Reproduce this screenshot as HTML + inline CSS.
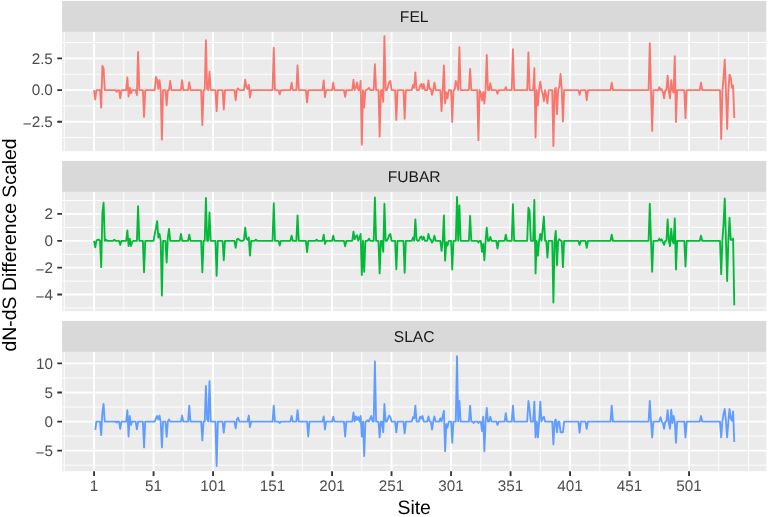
<!DOCTYPE html><html><head><meta charset="utf-8"><style>
html,body{margin:0;padding:0;background:#fff;width:768px;height:517px;overflow:hidden}
svg{display:block;will-change:transform}text{font-family:"Liberation Sans",sans-serif;text-rendering:geometricPrecision}
</style></head><body>
<svg width="768" height="517" viewBox="0 0 768 517">
<rect x="0" y="0" width="768" height="517" fill="#fff"/>
<rect x="62.05" y="0.9" width="704.25" height="31.00" fill="#D9D9D9"/>
<text x="414.17" y="21.70" font-size="15.6" fill="#1A1A1A" text-anchor="middle">FEL</text>
<rect x="62.05" y="31.9" width="704.25" height="119.25" fill="#EBEBEB"/>
<path d="M62.05 137.53H766.3M62.05 105.88H766.3M62.05 74.22H766.3M62.05 42.57H766.3M64.31 31.9V151.15M123.81 31.9V151.15M183.31 31.9V151.15M242.81 31.9V151.15M302.31 31.9V151.15M361.81 31.9V151.15M421.31 31.9V151.15M480.81 31.9V151.15M540.31 31.9V151.15M599.81 31.9V151.15M659.31 31.9V151.15M718.81 31.9V151.15M748.56 31.9V151.15" stroke="#fff" stroke-width="0.93" fill="none"/>
<path d="M62.05 121.70H766.3M62.05 90.05H766.3M62.05 58.40H766.3M94.06 31.9V151.15M153.56 31.9V151.15M213.06 31.9V151.15M272.56 31.9V151.15M332.06 31.9V151.15M391.56 31.9V151.15M451.06 31.9V151.15M510.56 31.9V151.15M570.06 31.9V151.15M629.56 31.9V151.15M689.06 31.9V151.15" stroke="#fff" stroke-width="1.85" fill="none"/>
<polyline points="94.06,90.05 95.25,99.51 96.44,90.05 97.63,90.05 98.82,90.05 100.01,90.05 101.20,107.64 102.39,65.84 103.58,68.16 104.77,90.05 105.96,90.05 107.15,90.05 108.34,90.05 109.53,90.05 110.72,90.05 111.91,90.05 113.10,90.05 114.29,90.05 115.48,90.05 116.67,91.85 117.86,90.05 119.05,90.05 120.24,98.35 121.43,90.05 122.62,90.05 123.81,90.05 125.00,90.05 126.19,90.05 127.38,77.45 128.57,96.49 129.76,87.90 130.95,93.40 132.14,90.05 133.33,90.05 134.52,90.05 135.71,90.05 136.90,95.31 138.09,51.90 139.28,90.05 140.47,90.05 141.66,90.05 142.85,90.05 144.04,116.93 145.23,90.05 146.42,90.05 147.61,90.05 148.80,90.05 149.99,90.05 151.18,90.05 152.37,90.05 153.56,90.05 154.75,90.05 155.94,76.98 157.13,79.77 158.32,89.06 159.51,80.23 160.70,90.05 161.89,139.69 163.08,90.05 164.27,90.05 165.46,90.05 166.65,105.31 167.84,90.05 169.03,90.05 170.22,80.93 171.41,90.05 172.60,90.05 173.79,90.05 174.98,90.05 176.17,90.05 177.36,90.05 178.55,90.05 179.74,90.05 180.93,90.05 182.12,80.23 183.31,90.05 184.50,90.05 185.69,90.05 186.88,90.05 188.07,90.05 189.26,82.09 190.45,90.05 191.64,90.05 192.83,90.05 194.02,90.05 195.21,90.05 196.40,90.05 197.59,90.05 198.78,90.05 199.97,90.05 201.16,90.05 202.35,125.05 203.54,90.05 204.73,90.05 205.92,40.29 207.11,89.06 208.30,90.05 209.49,71.64 210.68,90.05 211.87,90.05 213.06,90.05 214.25,90.05 215.44,90.05 216.63,111.12 217.82,90.05 219.01,90.05 220.20,90.05 221.39,90.05 222.58,90.05 223.77,109.50 224.96,90.05 226.15,90.05 227.34,90.05 228.53,90.05 229.72,90.05 230.91,90.05 232.10,90.05 233.29,90.05 234.48,90.05 235.67,100.21 236.86,90.05 238.05,88.36 239.24,90.05 240.43,90.05 241.62,90.05 242.81,90.05 244.00,90.05 245.19,79.77 246.38,86.74 247.57,89.06 248.76,84.88 249.95,97.65 251.14,90.05 252.33,90.05 253.52,90.05 254.71,90.05 255.90,90.05 257.09,90.05 258.28,90.05 259.47,90.05 260.66,90.05 261.85,90.05 263.04,90.05 264.23,90.05 265.42,90.05 266.61,90.05 267.80,90.05 268.99,90.05 270.18,90.05 271.37,90.05 272.56,90.05 273.75,47.72 274.94,90.05 276.13,90.05 277.32,90.05 278.51,90.05 279.70,94.40 280.89,90.05 282.08,90.05 283.27,90.05 284.46,90.05 285.65,90.05 286.84,90.05 288.03,90.05 289.22,90.05 290.41,90.05 291.60,82.56 292.79,90.05 293.98,90.05 295.17,90.05 296.36,90.05 297.55,65.37 298.74,90.05 299.93,90.05 301.12,90.05 302.31,90.05 303.50,90.05 304.69,90.05 305.88,90.05 307.07,102.30 308.26,90.05 309.45,90.05 310.64,90.05 311.83,90.05 313.02,90.05 314.21,90.05 315.40,90.05 316.59,90.05 317.78,90.05 318.97,90.05 320.16,90.05 321.35,90.05 322.54,90.05 323.73,80.47 324.92,97.19 326.11,90.05 327.30,90.05 328.49,90.05 329.68,90.05 330.87,90.05 332.06,90.05 333.25,82.56 334.44,90.05 335.63,90.05 336.82,90.05 338.01,90.05 339.20,90.05 340.39,90.05 341.58,90.05 342.77,90.05 343.96,90.05 345.15,96.72 346.34,90.05 347.53,90.05 348.72,90.05 349.91,90.05 351.10,90.05 352.29,90.05 353.48,79.77 354.67,90.05 355.86,87.90 357.05,82.56 358.24,90.05 359.43,90.05 360.62,80.93 361.81,144.79 363.00,90.05 364.19,107.64 365.38,90.05 366.57,90.05 367.76,89.06 368.95,87.90 370.14,90.05 371.33,90.05 372.52,90.05 373.71,90.05 374.90,64.21 376.09,90.05 377.28,90.05 378.47,90.05 379.66,136.67 380.85,90.05 382.04,90.05 383.23,101.83 384.42,36.11 385.61,90.05 386.80,90.05 387.99,86.74 389.18,82.09 390.37,80.93 391.56,90.05 392.75,90.05 393.94,90.05 395.13,90.05 396.32,119.95 397.51,90.05 398.70,90.05 399.89,90.05 401.08,90.05 402.27,90.05 403.46,90.05 404.65,118.78 405.84,90.05 407.03,90.05 408.22,90.05 409.41,90.05 410.60,90.05 411.79,90.05 412.98,84.88 414.17,87.90 415.36,72.34 416.55,90.05 417.74,90.05 418.93,90.05 420.12,85.58 421.31,83.95 422.50,89.06 423.69,83.95 424.88,90.05 426.07,90.05 427.26,90.05 428.45,80.47 429.64,89.06 430.83,89.06 432.02,94.86 433.21,90.05 434.40,82.56 435.59,90.05 436.78,90.05 437.97,90.05 439.16,90.05 440.35,90.05 441.54,111.12 442.73,90.05 443.92,65.37 445.11,103.46 446.30,92.54 447.49,98.35 448.68,90.05 449.87,90.05 451.06,90.05 452.25,122.04 453.44,90.05 454.63,90.05 455.82,80.93 457.01,84.41 458.20,90.05 459.39,47.26 460.58,90.05 461.77,90.05 462.96,90.05 464.15,90.05 465.34,90.05 466.53,90.05 467.72,90.05 468.91,90.05 470.10,68.85 471.29,90.05 472.48,90.05 473.67,90.05 474.86,90.05 476.05,90.05 477.24,90.05 478.43,140.15 479.62,90.05 480.81,93.70 482.00,100.67 483.19,91.85 484.38,103.46 485.57,90.05 486.76,54.92 487.95,90.05 489.14,90.05 490.33,83.25 491.52,90.05 492.71,90.05 493.90,90.05 495.09,90.05 496.28,90.05 497.47,93.70 498.66,90.05 499.85,90.05 501.04,90.05 502.23,90.05 503.42,90.05 504.61,90.05 505.80,87.20 506.99,90.05 508.18,90.05 509.37,90.05 510.56,90.05 511.75,90.05 512.94,49.11 514.13,90.05 515.32,90.05 516.51,90.05 517.70,90.05 518.89,90.05 520.08,90.05 521.27,90.05 522.46,90.05 523.65,90.05 524.84,90.05 526.03,90.05 527.22,90.05 528.41,52.37 529.60,90.05 530.79,90.05 531.98,90.05 533.17,90.05 534.36,68.16 535.55,137.36 536.74,90.05 537.93,105.31 539.12,89.06 540.31,81.63 541.50,90.05 542.69,93.70 543.88,101.13 545.07,90.05 546.26,96.03 547.45,103.46 548.64,90.05 549.83,90.05 551.02,90.05 552.21,90.05 553.40,145.96 554.59,90.05 555.78,87.90 556.97,114.14 558.16,90.05 559.35,86.74 560.54,73.96 561.73,89.06 562.92,121.57 564.11,90.05 565.30,90.05 566.49,90.05 567.68,90.05 568.87,90.05 570.06,90.05 571.25,90.05 572.44,90.05 573.63,90.05 574.82,90.05 576.01,90.05 577.20,90.05 578.39,90.05 579.58,94.86 580.77,90.05 581.96,90.05 583.15,90.05 584.34,90.05 585.53,90.05 586.72,100.21 587.91,90.05 589.10,90.05 590.29,90.05 591.48,90.05 592.67,90.05 593.86,90.05 595.05,90.05 596.24,90.05 597.43,90.05 598.62,90.05 599.81,90.05 601.00,90.05 602.19,90.05 603.38,90.05 604.57,90.05 605.76,90.05 606.95,90.05 608.14,90.05 609.33,90.05 610.52,90.05 611.71,82.56 612.90,90.05 614.09,90.05 615.28,90.05 616.47,90.05 617.66,90.05 618.85,90.05 620.04,90.05 621.23,90.05 622.42,90.05 623.61,90.05 624.80,90.05 625.99,90.05 627.18,90.05 628.37,90.05 629.56,90.05 630.75,90.05 631.94,90.05 633.13,90.05 634.32,90.05 635.51,90.05 636.70,90.05 637.89,90.05 639.08,90.05 640.27,90.05 641.46,90.05 642.65,90.05 643.84,90.05 645.03,90.05 646.22,90.05 647.41,90.05 648.60,90.05 649.79,43.08 650.98,90.05 652.17,130.86 653.36,90.05 654.55,90.05 655.74,90.05 656.93,90.05 658.12,90.05 659.31,87.20 660.50,90.05 661.69,89.06 662.88,91.85 664.07,98.35 665.26,90.05 666.45,90.05 667.64,75.59 668.83,91.38 670.02,98.35 671.21,80.23 672.40,90.05 673.59,92.54 674.78,56.08 675.97,122.04 677.16,90.05 678.35,90.05 679.54,90.05 680.73,90.05 681.92,90.05 683.11,90.05 684.30,90.05 685.49,118.09 686.68,90.05 687.87,90.05 689.06,90.05 690.25,90.05 691.44,90.05 692.63,90.05 693.82,90.05 695.01,90.05 696.20,90.05 697.39,90.05 698.58,90.05 699.77,90.05 700.96,82.56 702.15,90.05 703.34,90.05 704.53,90.05 705.72,90.05 706.91,90.05 708.10,90.05 709.29,90.05 710.48,90.05 711.67,90.05 712.86,90.05 714.05,90.05 715.24,90.05 716.43,90.05 717.62,90.05 718.81,90.05 720.00,90.05 721.19,138.96 722.38,91.37 723.57,77.44 724.76,59.56 725.95,91.37 727.14,128.98 728.33,91.37 729.52,74.65 730.71,77.44 731.90,87.88 733.09,85.56 734.28,118.07" fill="none" stroke="#F8766D" stroke-width="1.85" stroke-linejoin="round" stroke-linecap="butt"/>
<text x="52.89" y="127.10" font-size="15.28" fill="#4D4D4D" text-anchor="end"><tspan dy="1.6">−</tspan><tspan dy="-1.6">2.5</tspan></text>
<text x="52.89" y="95.45" font-size="15.28" fill="#4D4D4D" text-anchor="end">0.0</text>
<text x="52.89" y="63.80" font-size="15.28" fill="#4D4D4D" text-anchor="end">2.5</text>
<path d="M57.29 121.70H62.05M57.29 90.05H62.05M57.29 58.40H62.05" stroke="#333" stroke-width="1.85" fill="none"/>
<rect x="62.05" y="160.9" width="704.25" height="31.00" fill="#D9D9D9"/>
<text x="414.17" y="181.70" font-size="15.6" fill="#1A1A1A" text-anchor="middle">FUBAR</text>
<rect x="62.05" y="191.9" width="704.25" height="119.25" fill="#EBEBEB"/>
<path d="M62.05 307.98H766.3M62.05 281.11H766.3M62.05 254.24H766.3M62.05 227.36H766.3M62.05 200.49H766.3M64.31 191.9V311.15M123.81 191.9V311.15M183.31 191.9V311.15M242.81 191.9V311.15M302.31 191.9V311.15M361.81 191.9V311.15M421.31 191.9V311.15M480.81 191.9V311.15M540.31 191.9V311.15M599.81 191.9V311.15M659.31 191.9V311.15M718.81 191.9V311.15M748.56 191.9V311.15" stroke="#fff" stroke-width="0.93" fill="none"/>
<path d="M62.05 294.54H766.3M62.05 267.67H766.3M62.05 240.80H766.3M62.05 213.93H766.3M94.06 191.9V311.15M153.56 191.9V311.15M213.06 191.9V311.15M272.56 191.9V311.15M332.06 191.9V311.15M391.56 191.9V311.15M451.06 191.9V311.15M510.56 191.9V311.15M570.06 191.9V311.15M629.56 191.9V311.15M689.06 191.9V311.15" stroke="#fff" stroke-width="1.85" fill="none"/>
<polyline points="94.06,240.80 95.25,247.43 96.44,240.80 97.63,239.77 98.82,239.77 100.01,240.80 101.20,267.17 102.39,213.06 103.58,202.61 104.77,240.80 105.96,239.77 107.15,240.80 108.34,240.80 109.53,240.80 110.72,240.80 111.91,240.80 113.10,240.80 114.29,239.77 115.48,240.80 116.67,240.80 117.86,240.80 119.05,240.80 120.24,244.88 121.43,240.80 122.62,240.80 123.81,240.80 125.00,240.80 126.19,240.80 127.38,230.48 128.57,246.04 129.76,238.61 130.95,246.04 132.14,242.09 133.33,240.80 134.52,240.80 135.71,240.80 136.90,240.80 138.09,206.10 139.28,240.80 140.47,240.80 141.66,240.80 142.85,240.80 144.04,272.28 145.23,240.80 146.42,240.80 147.61,240.80 148.80,240.80 149.99,240.80 151.18,240.80 152.37,240.80 153.56,240.80 154.75,233.96 155.94,228.16 157.13,221.19 158.32,237.45 159.51,233.96 160.70,240.80 161.89,295.51 163.08,240.80 164.27,240.80 165.46,240.80 166.65,262.53 167.84,237.45 169.03,228.85 170.22,240.80 171.41,240.80 172.60,240.80 173.79,240.80 174.98,240.80 176.17,240.80 177.36,240.80 178.55,240.80 179.74,240.80 180.93,233.96 182.12,240.80 183.31,240.80 184.50,240.80 185.69,240.80 186.88,240.80 188.07,240.80 189.26,234.66 190.45,240.80 191.64,240.80 192.83,240.80 194.02,240.80 195.21,240.80 196.40,240.80 197.59,240.80 198.78,240.80 199.97,240.80 201.16,240.80 202.35,272.28 203.54,240.80 204.73,240.80 205.92,197.97 207.11,240.80 208.30,240.80 209.49,212.37 210.68,240.80 211.87,240.80 213.06,240.80 214.25,240.80 215.44,240.80 216.63,275.77 217.82,240.80 219.01,240.80 220.20,240.80 221.39,240.80 222.58,240.80 223.77,260.21 224.96,240.80 226.15,240.80 227.34,240.80 228.53,240.80 229.72,240.80 230.91,240.80 232.10,240.80 233.29,240.80 234.48,240.80 235.67,247.90 236.86,239.77 238.05,238.61 239.24,239.77 240.43,240.80 241.62,240.80 242.81,240.80 244.00,239.77 245.19,227.69 246.38,238.61 247.57,239.77 248.76,237.45 249.95,255.56 251.14,240.80 252.33,240.80 253.52,240.80 254.71,240.80 255.90,239.77 257.09,240.80 258.28,240.80 259.47,240.80 260.66,240.80 261.85,240.80 263.04,240.80 264.23,240.80 265.42,240.80 266.61,240.80 267.80,240.80 268.99,240.80 270.18,240.80 271.37,240.80 272.56,240.80 273.75,203.08 274.94,240.80 276.13,240.80 277.32,240.80 278.51,240.80 279.70,245.58 280.89,240.80 282.08,240.80 283.27,240.80 284.46,240.80 285.65,240.80 286.84,240.80 288.03,240.80 289.22,240.80 290.41,240.80 291.60,235.59 292.79,240.80 293.98,240.80 295.17,240.80 296.36,240.80 297.55,215.38 298.74,240.80 299.93,240.80 301.12,240.80 302.31,240.80 303.50,240.80 304.69,240.80 305.88,240.80 307.07,252.08 308.26,240.80 309.45,240.80 310.64,240.80 311.83,240.80 313.02,240.80 314.21,240.80 315.40,240.80 316.59,239.77 317.78,240.80 318.97,240.80 320.16,240.80 321.35,240.80 322.54,240.80 323.73,234.66 324.92,243.95 326.11,240.80 327.30,240.80 328.49,240.80 329.68,240.80 330.87,240.80 332.06,240.80 333.25,235.59 334.44,240.80 335.63,240.80 336.82,240.80 338.01,240.80 339.20,240.80 340.39,240.80 341.58,240.80 342.77,240.80 343.96,240.80 345.15,246.27 346.34,240.80 347.53,240.80 348.72,240.80 349.91,240.80 351.10,240.80 352.29,240.80 353.48,231.64 354.67,239.30 355.86,236.29 357.05,235.12 358.24,240.80 359.43,237.45 360.62,233.96 361.81,275.07 363.00,240.80 364.19,271.82 365.38,240.80 366.57,240.80 367.76,240.80 368.95,238.61 370.14,240.80 371.33,240.80 372.52,240.80 373.71,240.80 374.90,197.50 376.09,240.80 377.28,240.80 378.47,240.80 379.66,273.44 380.85,240.80 382.04,240.80 383.23,251.85 384.42,203.77 385.61,240.80 386.80,240.80 387.99,238.61 389.18,235.12 390.37,233.96 391.56,240.80 392.75,240.80 393.94,240.80 395.13,240.80 396.32,269.26 397.51,240.80 398.70,240.80 399.89,240.80 401.08,240.80 402.27,240.80 403.46,240.80 404.65,272.75 405.84,240.80 407.03,240.80 408.22,240.80 409.41,240.80 410.60,240.80 411.79,240.80 412.98,237.45 414.17,240.80 415.36,219.33 416.55,239.77 417.74,240.80 418.93,240.80 420.12,237.45 421.31,236.29 422.50,239.77 423.69,236.75 424.88,240.80 426.07,240.80 427.26,240.80 428.45,233.96 429.64,238.61 430.83,239.77 432.02,242.56 433.21,240.80 434.40,235.59 435.59,240.80 436.78,240.80 437.97,240.80 439.16,240.80 440.35,240.80 441.54,250.92 442.73,240.80 443.92,215.38 445.11,260.67 446.30,242.09 447.49,245.58 448.68,240.80 449.87,240.80 451.06,240.80 452.25,269.50 453.44,240.80 454.63,240.80 455.82,240.80 457.01,196.81 458.20,240.80 459.39,205.40 460.58,240.80 461.77,240.80 462.96,240.80 464.15,240.80 465.34,240.80 466.53,240.80 467.72,240.80 468.91,240.80 470.10,215.85 471.29,240.80 472.48,240.80 473.67,240.80 474.86,240.80 476.05,240.80 477.24,240.80 478.43,242.56 479.62,240.80 480.81,240.80 482.00,251.85 483.19,243.95 484.38,260.21 485.57,240.80 486.76,227.69 487.95,240.80 489.14,240.80 490.33,236.98 491.52,240.80 492.71,240.80 493.90,240.80 495.09,240.80 496.28,240.80 497.47,248.59 498.66,240.80 499.85,240.80 501.04,240.80 502.23,240.80 503.42,240.80 504.61,240.80 505.80,234.66 506.99,240.80 508.18,240.80 509.37,240.80 510.56,240.80 511.75,240.80 512.94,204.24 514.13,240.80 515.32,240.80 516.51,240.80 517.70,240.80 518.89,240.80 520.08,240.80 521.27,240.80 522.46,240.80 523.65,240.80 524.84,240.80 526.03,240.80 527.22,240.80 528.41,207.72 529.60,210.74 530.79,240.80 531.98,240.80 533.17,240.80 534.36,199.82 535.55,273.44 536.74,240.80 537.93,255.56 539.12,240.80 540.31,233.96 541.50,240.80 542.69,229.32 543.88,216.55 545.07,240.80 546.26,240.80 547.45,257.65 548.64,240.80 549.83,240.80 551.02,240.80 552.21,240.80 553.40,302.47 554.59,240.80 555.78,230.94 556.97,265.31 558.16,240.80 559.35,239.30 560.54,240.80 561.73,240.80 562.92,267.17 564.11,240.80 565.30,240.80 566.49,240.80 567.68,240.80 568.87,240.80 570.06,240.80 571.25,240.80 572.44,240.80 573.63,240.80 574.82,240.80 576.01,240.80 577.20,240.80 578.39,240.80 579.58,244.88 580.77,240.80 581.96,240.80 583.15,240.80 584.34,240.80 585.53,240.80 586.72,247.90 587.91,240.80 589.10,240.80 590.29,240.80 591.48,240.80 592.67,240.80 593.86,240.80 595.05,240.80 596.24,240.80 597.43,240.80 598.62,240.80 599.81,240.80 601.00,240.80 602.19,240.80 603.38,240.80 604.57,240.80 605.76,240.80 606.95,240.80 608.14,240.80 609.33,240.80 610.52,240.80 611.71,234.66 612.90,240.80 614.09,240.80 615.28,240.80 616.47,240.80 617.66,240.80 618.85,240.80 620.04,240.80 621.23,240.80 622.42,240.80 623.61,240.80 624.80,240.80 625.99,240.80 627.18,240.80 628.37,240.80 629.56,240.80 630.75,240.80 631.94,240.80 633.13,240.80 634.32,240.80 635.51,240.80 636.70,240.80 637.89,240.80 639.08,240.80 640.27,240.80 641.46,240.80 642.65,240.80 643.84,240.80 645.03,240.80 646.22,240.80 647.41,240.80 648.60,240.80 649.79,203.77 650.98,240.80 652.17,271.82 653.36,240.80 654.55,240.80 655.74,240.80 656.93,240.80 658.12,240.80 659.31,238.61 660.50,240.80 661.69,239.30 662.88,242.09 664.07,244.88 665.26,240.80 666.45,240.80 667.64,219.33 668.83,240.80 670.02,246.27 671.21,228.62 672.40,240.80 673.59,243.25 674.78,218.40 675.97,269.50 677.16,240.80 678.35,240.80 679.54,240.80 680.73,240.80 681.92,240.80 683.11,240.80 684.30,240.80 685.49,266.48 686.68,240.80 687.87,240.80 689.06,240.80 690.25,240.80 691.44,240.80 692.63,240.80 693.82,240.80 695.01,240.80 696.20,240.80 697.39,240.80 698.58,240.80 699.77,240.80 700.96,235.59 702.15,240.80 703.34,240.80 704.53,240.80 705.72,240.80 706.91,240.80 708.10,240.80 709.29,240.80 710.48,240.80 711.67,240.80 712.86,240.80 714.05,240.80 715.24,240.80 716.43,240.80 717.62,240.80 718.81,240.80 720.00,240.80 721.19,274.12 722.38,240.80 723.57,223.51 724.76,198.43 725.95,240.80 727.14,281.09 728.33,240.80 729.52,217.70 730.71,239.76 731.90,239.76 733.09,238.60 734.28,305.23" fill="none" stroke="#00BA38" stroke-width="1.85" stroke-linejoin="round" stroke-linecap="butt"/>
<text x="52.89" y="299.94" font-size="15.28" fill="#4D4D4D" text-anchor="end"><tspan dy="1.6">−</tspan><tspan dy="-1.6">4</tspan></text>
<text x="52.89" y="273.07" font-size="15.28" fill="#4D4D4D" text-anchor="end"><tspan dy="1.6">−</tspan><tspan dy="-1.6">2</tspan></text>
<text x="52.89" y="246.20" font-size="15.28" fill="#4D4D4D" text-anchor="end">0</text>
<text x="52.89" y="219.33" font-size="15.28" fill="#4D4D4D" text-anchor="end">2</text>
<path d="M57.29 294.54H62.05M57.29 267.67H62.05M57.29 240.80H62.05M57.29 213.93H62.05" stroke="#333" stroke-width="1.85" fill="none"/>
<rect x="62.05" y="320.9" width="704.25" height="31.00" fill="#D9D9D9"/>
<text x="414.17" y="341.70" font-size="15.6" fill="#1A1A1A" text-anchor="middle">SLAC</text>
<rect x="62.05" y="351.9" width="704.25" height="119.25" fill="#EBEBEB"/>
<path d="M62.05 465.17H766.3M62.05 436.10H766.3M62.05 407.02H766.3M62.05 377.95H766.3M64.31 351.9V471.15M123.81 351.9V471.15M183.31 351.9V471.15M242.81 351.9V471.15M302.31 351.9V471.15M361.81 351.9V471.15M421.31 351.9V471.15M480.81 351.9V471.15M540.31 351.9V471.15M599.81 351.9V471.15M659.31 351.9V471.15M718.81 351.9V471.15M748.56 351.9V471.15" stroke="#fff" stroke-width="0.93" fill="none"/>
<path d="M62.05 450.63H766.3M62.05 421.56H766.3M62.05 392.49H766.3M62.05 363.41H766.3M94.06 351.9V471.15M153.56 351.9V471.15M213.06 351.9V471.15M272.56 351.9V471.15M332.06 351.9V471.15M391.56 351.9V471.15M451.06 351.9V471.15M510.56 351.9V471.15M570.06 351.9V471.15M629.56 351.9V471.15M689.06 351.9V471.15" stroke="#fff" stroke-width="1.85" fill="none"/>
<polyline points="95.25,429.96 96.44,421.56 97.63,421.56 98.82,421.56 100.01,421.56 101.20,435.07 102.39,412.54 103.58,403.95 104.77,421.56 105.96,421.56 107.15,421.56 108.34,421.56 109.53,421.56 110.72,421.56 111.91,421.56 113.10,421.56 114.29,421.56 115.48,421.56 116.67,422.53 117.86,421.56 119.05,421.56 120.24,428.80 121.43,421.56 122.62,421.56 123.81,421.56 125.00,421.56 126.19,421.56 127.38,410.22 128.57,436.46 129.76,416.03 130.95,424.85 132.14,421.56 133.33,421.56 134.52,421.56 135.71,421.56 136.90,429.26 138.09,421.56 139.28,421.56 140.47,421.56 141.66,421.56 142.85,421.56 144.04,447.38 145.23,421.56 146.42,421.56 147.61,421.56 148.80,421.56 149.99,421.56 151.18,421.56 152.37,421.56 153.56,421.56 154.75,421.56 155.94,418.35 157.13,416.03 158.32,419.51 159.51,415.56 160.70,421.56 161.89,447.38 163.08,421.56 164.27,421.56 165.46,421.56 166.65,436.93 167.84,421.56 169.03,419.51 170.22,421.56 171.41,421.56 172.60,421.56 173.79,421.56 174.98,421.56 176.17,421.56 177.36,421.56 178.55,421.56 179.74,421.56 180.93,421.56 182.12,415.56 183.31,421.56 184.50,421.56 185.69,421.56 186.88,421.56 188.07,421.56 189.26,405.58 190.45,421.56 191.64,421.56 192.83,421.56 194.02,421.56 195.21,421.56 196.40,421.56 197.59,421.56 198.78,421.56 199.97,421.56 201.16,421.56 202.35,440.41 203.54,421.56 204.73,421.56 205.92,385.84 207.11,419.51 208.30,421.56 209.49,381.19 210.68,421.56 211.87,421.56 213.06,421.56 214.25,421.56 215.44,421.56 216.63,465.96 217.82,421.56 219.01,421.56 220.20,421.56 221.39,421.56 222.58,421.56 223.77,432.75 224.96,421.56 226.15,421.56 227.34,421.56 228.53,421.56 229.72,421.56 230.91,421.56 232.10,421.56 233.29,421.56 234.48,421.56 235.67,428.33 236.86,419.51 238.05,417.65 239.24,421.56 240.43,421.56 241.62,421.56 242.81,421.56 244.00,421.56 245.19,421.56 246.38,421.56 247.57,421.56 248.76,415.56 249.95,427.17 251.14,421.56 252.33,421.56 253.52,421.56 254.71,421.56 255.90,421.56 257.09,421.56 258.28,421.56 259.47,421.56 260.66,421.56 261.85,421.56 263.04,421.56 264.23,421.56 265.42,421.56 266.61,421.56 267.80,421.56 268.99,421.56 270.18,421.56 271.37,421.56 272.56,421.56 273.75,405.58 274.94,421.56 276.13,421.56 277.32,421.56 278.51,421.56 279.70,422.99 280.89,421.56 282.08,421.56 283.27,421.56 284.46,421.56 285.65,421.56 286.84,421.56 288.03,421.56 289.22,421.56 290.41,421.56 291.60,416.03 292.79,421.56 293.98,421.56 295.17,421.56 296.36,421.56 297.55,410.22 298.74,421.56 299.93,421.56 301.12,421.56 302.31,421.56 303.50,421.56 304.69,421.56 305.88,421.56 307.07,421.56 308.26,436.46 309.45,421.56 310.64,421.56 311.83,421.56 313.02,421.56 314.21,421.56 315.40,421.56 316.59,421.56 317.78,421.56 318.97,421.56 320.16,421.56 321.35,421.56 322.54,421.56 323.73,416.49 324.92,429.50 326.11,421.56 327.30,421.56 328.49,421.56 329.68,421.56 330.87,421.56 332.06,421.56 333.25,416.72 334.44,421.56 335.63,421.56 336.82,421.56 338.01,421.56 339.20,421.56 340.39,421.56 341.58,421.56 342.77,421.56 343.96,421.56 345.15,436.46 346.34,421.56 347.53,421.56 348.72,421.56 349.91,421.56 351.10,421.56 352.29,421.56 353.48,412.54 354.67,421.56 355.86,416.49 357.05,419.97 358.24,417.19 359.43,421.56 360.62,416.03 361.81,436.46 363.00,421.56 364.19,455.97 365.38,421.56 366.57,421.56 367.76,420.21 368.95,421.56 370.14,418.35 371.33,416.03 372.52,421.56 373.71,421.56 374.90,361.45 376.09,421.56 377.28,421.56 378.47,421.56 379.66,437.39 380.85,421.56 382.04,421.56 383.23,432.28 384.42,403.95 385.61,421.56 386.80,421.56 387.99,418.35 389.18,415.56 390.37,417.19 391.56,421.56 392.75,421.56 393.94,421.56 395.13,421.56 396.32,432.28 397.51,421.56 398.70,421.56 399.89,421.56 401.08,421.56 402.27,421.56 403.46,421.56 404.65,433.44 405.84,421.56 407.03,421.56 408.22,421.56 409.41,421.56 410.60,421.56 411.79,421.56 412.98,417.19 414.17,418.35 415.36,405.58 416.55,421.56 417.74,421.56 418.93,421.56 420.12,416.72 421.31,418.35 422.50,416.03 423.69,421.56 424.88,421.56 426.07,421.56 427.26,421.56 428.45,416.49 429.64,421.56 430.83,421.56 432.02,429.50 433.21,421.56 434.40,416.49 435.59,421.56 436.78,421.56 437.97,421.56 439.16,421.56 440.35,418.35 441.54,421.56 442.73,416.03 443.92,410.92 445.11,451.33 446.30,424.15 447.49,427.64 448.68,421.56 449.87,421.56 451.06,421.56 452.25,442.73 453.44,421.56 454.63,421.56 455.82,421.56 457.01,356.11 458.20,421.56 459.39,400.93 460.58,421.56 461.77,421.56 462.96,421.56 464.15,421.56 465.34,421.56 466.53,421.56 467.72,421.56 468.91,421.56 470.10,405.58 471.29,421.56 472.48,421.56 473.67,422.99 474.86,421.56 476.05,421.56 477.24,421.56 478.43,422.99 479.62,421.56 480.81,421.56 482.00,431.12 483.19,416.72 484.38,451.33 485.57,421.56 486.76,407.90 487.95,421.56 489.14,421.56 490.33,416.72 491.52,421.56 492.71,421.56 493.90,421.56 495.09,421.56 496.28,421.56 497.47,424.85 498.66,421.56 499.85,421.56 501.04,421.56 502.23,421.56 503.42,421.56 504.61,421.56 505.80,413.24 506.99,421.56 508.18,421.56 509.37,421.56 510.56,421.56 511.75,421.56 512.94,405.58 514.13,421.56 515.32,421.56 516.51,421.56 517.70,421.56 518.89,421.56 520.08,421.56 521.27,421.56 522.46,421.56 523.65,421.56 524.84,421.56 526.03,421.56 527.22,421.56 528.41,400.93 529.60,409.06 530.79,421.56 531.98,421.56 533.17,421.56 534.36,401.63 535.55,437.39 536.74,421.56 537.93,437.39 539.12,421.56 540.31,401.63 541.50,421.56 542.69,418.35 543.88,416.72 545.07,421.56 546.26,421.56 547.45,421.56 548.64,421.56 549.83,421.56 551.02,421.56 552.21,421.56 553.40,444.36 554.59,421.56 555.78,419.51 556.97,432.28 558.16,421.56 559.35,421.56 560.54,432.28 561.73,432.28 562.92,432.28 564.11,421.56 565.30,421.56 566.49,421.56 567.68,421.56 568.87,421.56 570.06,421.56 571.25,421.56 572.44,421.56 573.63,421.56 574.82,421.56 576.01,421.56 577.20,421.56 578.39,421.56 579.58,432.75 580.77,421.56 581.96,421.56 583.15,421.56 584.34,421.56 585.53,421.56 586.72,428.80 587.91,421.56 589.10,421.56 590.29,421.56 591.48,421.56 592.67,421.56 593.86,421.56 595.05,421.56 596.24,421.56 597.43,421.56 598.62,421.56 599.81,421.56 601.00,421.56 602.19,421.56 603.38,421.56 604.57,421.56 605.76,421.56 606.95,421.56 608.14,421.56 609.33,421.56 610.52,421.56 611.71,405.58 612.90,421.56 614.09,421.56 615.28,421.56 616.47,421.56 617.66,421.56 618.85,421.56 620.04,421.56 621.23,421.56 622.42,421.56 623.61,421.56 624.80,421.56 625.99,421.56 627.18,421.56 628.37,421.56 629.56,421.56 630.75,421.56 631.94,421.56 633.13,421.56 634.32,421.56 635.51,421.56 636.70,421.56 637.89,421.56 639.08,421.56 640.27,421.56 641.46,421.56 642.65,421.56 643.84,421.56 645.03,421.56 646.22,421.56 647.41,421.56 648.60,421.56 649.79,400.93 650.98,421.56 652.17,437.39 653.36,421.56 654.55,421.56 655.74,421.56 656.93,421.56 658.12,421.56 659.31,421.56 660.50,417.19 661.69,421.56 662.88,422.99 664.07,428.80 665.26,421.56 666.45,421.56 667.64,410.22 668.83,422.99 670.02,428.80 671.21,409.76 672.40,422.99 673.59,416.03 674.78,421.56 675.97,442.73 677.16,421.56 678.35,421.56 679.54,421.56 680.73,421.56 681.92,421.56 683.11,421.56 684.30,421.56 685.49,437.39 686.68,421.56 687.87,421.56 689.06,421.56 690.25,421.56 691.44,421.56 692.63,421.56 693.82,421.56 695.01,421.56 696.20,421.56 697.39,421.56 698.58,421.56 699.77,421.56 700.96,416.03 702.15,421.56 703.34,421.56 704.53,421.56 705.72,421.56 706.91,421.56 708.10,421.56 709.29,421.56 710.48,421.56 711.67,421.56 712.86,421.56 714.05,421.56 715.24,421.56 716.43,421.56 717.62,421.56 718.81,421.56 720.00,421.56 721.19,437.37 722.38,421.56 723.57,413.69 724.76,409.05 725.95,421.56 727.14,437.37 728.33,421.56 729.52,409.05 730.71,418.33 731.90,420.65 733.09,411.37 734.28,442.01" fill="none" stroke="#619CFF" stroke-width="1.85" stroke-linejoin="round" stroke-linecap="butt"/>
<text x="52.89" y="456.03" font-size="15.28" fill="#4D4D4D" text-anchor="end"><tspan dy="1.6">−</tspan><tspan dy="-1.6">5</tspan></text>
<text x="52.89" y="426.96" font-size="15.28" fill="#4D4D4D" text-anchor="end">0</text>
<text x="52.89" y="397.88" font-size="15.28" fill="#4D4D4D" text-anchor="end">5</text>
<text x="52.89" y="368.81" font-size="15.28" fill="#4D4D4D" text-anchor="end">10</text>
<path d="M57.29 450.63H62.05M57.29 421.56H62.05M57.29 392.49H62.05M57.29 363.41H62.05" stroke="#333" stroke-width="1.85" fill="none"/>
<text x="94.06" y="490.65" font-size="15.28" fill="#4D4D4D" text-anchor="middle">1</text>
<text x="153.56" y="490.65" font-size="15.28" fill="#4D4D4D" text-anchor="middle">51</text>
<text x="213.06" y="490.65" font-size="15.28" fill="#4D4D4D" text-anchor="middle">101</text>
<text x="272.56" y="490.65" font-size="15.28" fill="#4D4D4D" text-anchor="middle">151</text>
<text x="332.06" y="490.65" font-size="15.28" fill="#4D4D4D" text-anchor="middle">201</text>
<text x="391.56" y="490.65" font-size="15.28" fill="#4D4D4D" text-anchor="middle">251</text>
<text x="451.06" y="490.65" font-size="15.28" fill="#4D4D4D" text-anchor="middle">301</text>
<text x="510.56" y="490.65" font-size="15.28" fill="#4D4D4D" text-anchor="middle">351</text>
<text x="570.06" y="490.65" font-size="15.28" fill="#4D4D4D" text-anchor="middle">401</text>
<text x="629.56" y="490.65" font-size="15.28" fill="#4D4D4D" text-anchor="middle">451</text>
<text x="689.06" y="490.65" font-size="15.28" fill="#4D4D4D" text-anchor="middle">501</text>
<path d="M94.06 471.15V475.91M153.56 471.15V475.91M213.06 471.15V475.91M272.56 471.15V475.91M332.06 471.15V475.91M391.56 471.15V475.91M451.06 471.15V475.91M510.56 471.15V475.91M570.06 471.15V475.91M629.56 471.15V475.91M689.06 471.15V475.91" stroke="#333" stroke-width="1.85" fill="none"/>
<text x="414.17" y="513.5" font-size="19.4" fill="#000" text-anchor="middle">Site</text>
<text transform="translate(15.6 244.9) rotate(-90)" x="0" y="0" font-size="19.4" fill="#000" text-anchor="middle">dN-dS Difference Scaled</text>
</svg></body></html>
